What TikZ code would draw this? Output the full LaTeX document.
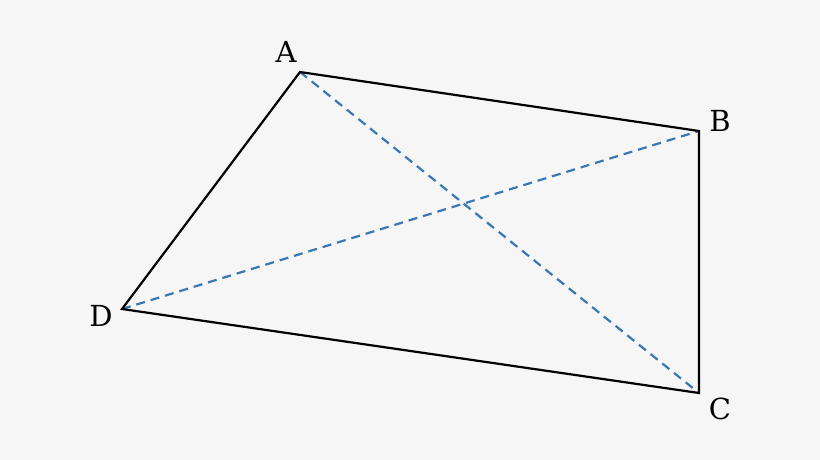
\documentclass[tikz,border=0pt]{standalone}
\usepackage{fontspec}
\setmainfont{DejaVu Serif}
\definecolor{bg}{HTML}{F6F6F6}
\definecolor{diag}{HTML}{3A78B5}
\begin{document}
\begin{tikzpicture}[x=1pt,y=-1pt,
  edge/.style={draw=black,line width=2.2pt,line join=miter},
  diagline/.style={draw=diag,line width=2.2pt,dash pattern=on 9pt off 6pt},
  lbl/.style={font=\fontsize{29}{31}\selectfont,inner sep=0pt}]
\fill[bg] (0,0) rectangle (820,460);
\useasboundingbox (0,0) rectangle (820,460);
\coordinate (A) at (300,72);
\coordinate (B) at (699,131);
\coordinate (C) at (699,393);
\coordinate (D) at (122,309);
\draw[diagline] (A) -- (C);
\draw[diagline] (D) -- (B);
\draw[edge] (A) -- (B) -- (C) -- (D) -- cycle;
\node[lbl] (la) at (286,52) {A};
\node[lbl] (lb) at (720,121) {B};
\node[lbl] (lc) at (720,409) {C};
\node[lbl] (ld) at (101,316) {D};
\end{tikzpicture}
\end{document}
